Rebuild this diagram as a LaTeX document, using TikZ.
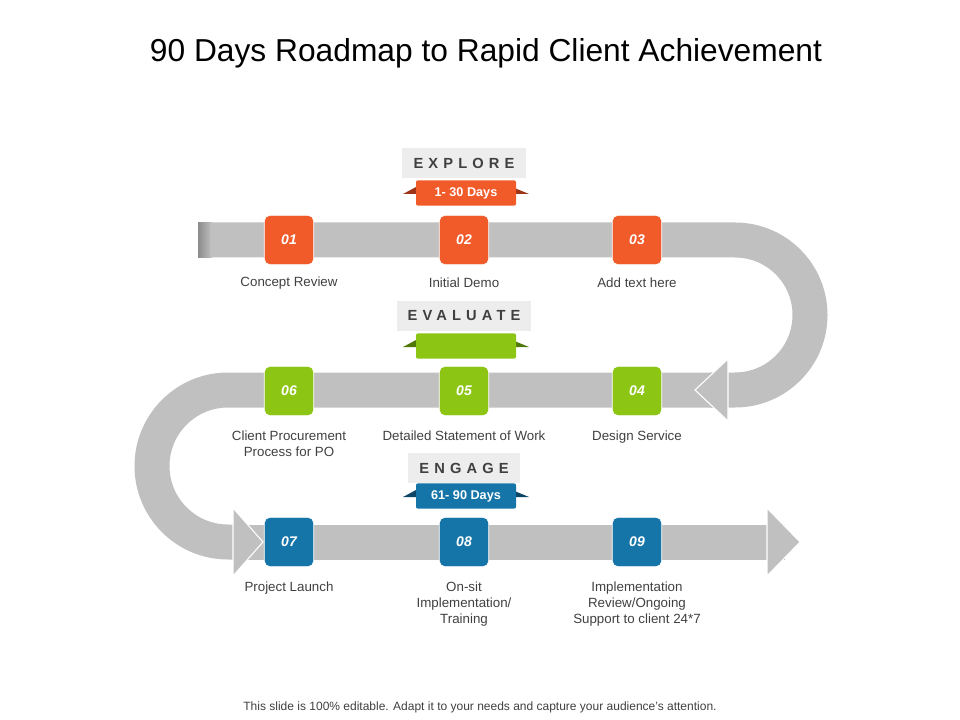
\documentclass[tikz,border=0pt]{standalone}
\usepackage{fontspec}
\setmainfont{Liberation Sans}
\begin{document}
\begin{tikzpicture}[x=0.75pt,y=-0.75pt,
  band/.style={draw=bandc,line width=26.25pt},
  head/.style={fill=bandc,draw=white,line width=0.8pt},
  stepbox/.style={rounded corners=4pt,minimum width=37pt,minimum height=37pt,draw=white,line width=0.6pt,text=white,font=\bfseries\itshape\fontsize{10.5}{12}\selectfont},
  lbl/.style={align=center,font=\fontsize{10}{12}\selectfont,text=black!75},
  tag/.style={fill=black!7,font=\bfseries\fontsize{11}{13}\selectfont,text=black!75,inner sep=0pt,minimum height=22pt},
  rib/.style={minimum width=75pt,minimum height=19pt,inner sep=0pt,text=white,font=\bfseries\fontsize{9.5}{11}\selectfont,rounded corners=1.5pt}]
\definecolor{bandc}{HTML}{C0C0C0}
\definecolor{org}{HTML}{F15A29}
\definecolor{orgd}{HTML}{9E3417}
\definecolor{grn}{HTML}{8CC514}
\definecolor{grnd}{HTML}{4F7A0A}
\definecolor{blu}{HTML}{1575A8}
\definecolor{blud}{HTML}{0C4566}
\useasboundingbox (0,0) rectangle (960,720);
\node[font=\fontsize{23.8}{28}\selectfont] (title) at (486,53) {90 Days Roadmap to Rapid Client Achievement};
% band
\shade[left color=black!45,right color=bandc] (198,223) rectangle (212,258);
\coordinate (s) at (210,240);
\draw[band] (s) -- (735,240) arc[start angle=-90,end angle=90,radius=75] -- (710,390);
\draw[band] (728,390) -- (228,390) arc[start angle=270,end angle=90,radius=76] -- (234,542);
\draw[band] (245,542) -- (785,542);
\coordinate (h1) at (695,390);
\coordinate (h2) at (263,542);
\coordinate (h3) at (800,542);
\path[head] (728,359) -- (h1) -- (728,421) -- cycle;
\path[head] (233,508) -- (h2) -- (233,576) -- cycle;
\path[head] (767,508) -- (h3) -- (767,576) -- cycle;
% boxes
\foreach \n/\x/\y/\c in {01/289/240/org,02/464/240/org,03/637/240/org,04/637/391/grn,05/464/391/grn,06/289/391/grn,07/289/542/blu,08/464/542/blu,09/637/542/blu}
  \node[stepbox,fill=\c] (b\n) at (\x,\y) {\n};
\node[lbl] (l01) at (289,283) {Concept Review};
\node[lbl] (l02) at (464,283) {Initial Demo};
\node[lbl] (l03) at (637,283) {Add text here};
\node[lbl,anchor=north] (l06) at (289,426) {Client Procurement\\Process for PO};
\node[lbl,anchor=north] (l05) at (464,426) {Detailed Statement of Work};
\node[lbl,anchor=north] (l04) at (637,426) {Design Service};
\node[lbl,anchor=north] (l07) at (289,577) {Project Launch};
\node[lbl,anchor=north] (l08) at (464,577) {On-sit\\Implementation/\\Training};
\node[lbl,anchor=north] (l09) at (637,577) {Implementation\\Review/Ongoing\\Support to client 24*7};
% tags and ribbons
\foreach \t/\w/\yt/\yr/\c/\cd/\txt in {EXPLORE/93/163/193/org/orgd/1- 30 Days,EVALUATE/100/316/346/grn/grnd/,ENGAGE/84/468/496/blu/blud/61- 90 Days}{
  \node[tag,minimum width=\w pt] (t\t) at (464,\yt) {\addfontfeature{LetterSpace=35}\t};
  \fill[\cd] (416,\yr-6) -- (403,\yr+1) -- (416,\yr+1) -- cycle;
  \fill[\cd] (512,\yr-6) -- (529,\yr+1) -- (512,\yr+1) -- cycle;
  \node[rib,fill=\c] (r\t) at (466,\yr) {\txt};
}
\node[font=\fontsize{9}{11}\selectfont,text=black!75] (foot) at (480,707) {This slide is 100\% editable. Adapt it to your needs and capture your audience's attention.};
\end{tikzpicture}
\end{document}
